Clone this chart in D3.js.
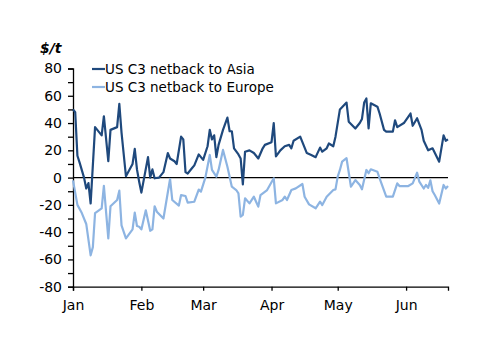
<!DOCTYPE html>
<html>
<head>
<meta charset="utf-8">
<script src="https://cdn.jsdelivr.net/npm/d3@7"></script>
<style>
body { margin: 0; background: #fff; }
text { font-family: "DejaVu Sans", Verdana, sans-serif; fill: #000; }
</style>
</head>
<body>
<div id="chart-area"></div>
<script>

var width = 500,
	height = 353;

var margin = {top: 68.5, right: 52, bottom: 66.3, left: 73};

// series
var asiaDates = ["01-01","01-02","01-03","01-04","01-06","01-07","01-08","01-09","01-11","01-14",
	"01-15","01-17","01-18","01-21","01-22","01-23","01-25","01-28","01-29","01-30",
	"01-31","02-01","02-04","02-05","02-06","02-07","02-09","02-11","02-13","02-14",
	"02-16","02-17","02-19","02-20","02-21","02-22","02-24","02-25","02-27","02-28",
	"03-01","03-03","03-04","03-05","03-06","03-07","03-08","03-10","03-12","03-13",
	"03-14","03-15","03-17","03-18","03-19","03-20","03-22","03-24","03-26","03-28",
	"03-29","04-01","04-02","04-03","04-05","04-07","04-09","04-10","04-11","04-14",
	"04-15","04-17","04-19","04-21","04-23","04-24","04-26","04-27","04-29","04-30",
	"05-02","05-05","05-06","05-09","05-11","05-12","05-13","05-14","05-15","05-16",
	"05-19","05-20","05-22","05-23","05-26","05-27","05-28","05-31","06-03","06-04",
	"06-06","06-08","06-09","06-11","06-13","06-16","06-18","06-19","06-20"];
var asiaValues = [50, 48, 16, 11, 0, -8, -4, -19, 37, 31,
	45, 12, 35, 37, 54, 33, 1, 10, 21, 6,
	-3, -11, 15, 0, 6, -0.5, 0, 4, 18, 14,
	12, 10, 30, 28, 4, 3, 7, 9, 17, 15,
	13, 23, 35, 28, 31, 15, 24, 35, 44, 34,
	34, 21.5, 17, 14, -5, 19, 20, 18, 14, 21.5,
	24, 26, 40, 15.5, 20, 23, 24, 21.5, 27, 30,
	26, 18, 16.6, 15, 22, 19, 21.5, 25, 23, 30,
	50, 55, 41, 36, 40, 43, 55, 58, 36, 54.5,
	52, 47, 35, 33.7, 33.7, 42, 37, 40, 47, 38,
	43.5, 35, 27, 20, 21.5, 11.7, 31, 27, 28];

var europeDates = ["01-01","01-03","01-05","01-07","01-09","01-10","01-11","01-14","01-15","01-17",
	"01-18","01-21","01-22","01-23","01-25","01-28","01-29","01-30","01-31","02-01",
	"02-03","02-05","02-06","02-07","02-08","02-11","02-14","02-15","02-18","02-19",
	"02-21","02-22","02-25","02-27","02-28","03-02","03-04","03-05","03-07","03-08",
	"03-10","03-12","03-14","03-16","03-17","03-18","03-19","03-20","03-22","03-24",
	"03-25","03-26","03-27","03-30","04-02","04-03","04-06","04-07","04-08","04-10",
	"04-12","04-15","04-16","04-18","04-21","04-23","04-24","04-26","04-29","04-30",
	"05-01","05-02","05-03","05-05","05-07","05-09","05-11","05-12","05-14","05-15",
	"05-16","05-19","05-20","05-23","05-26","05-28","05-29","06-02","06-04","06-06",
	"06-07","06-09","06-10","06-11","06-12","06-13","06-14","06-16","06-18","06-19",
	"06-20"];
var europeValues = [-2, -20, -26, -34, -57, -51, -26, -22.5, -6, -44.6,
	-21, -16.4, -9.6, -35, -44.6, -38, -25.7, -35.5, -36, -38,
	-24, -39, -38, -21, -25, -30, -1, -16.4, -20.5, -12.8,
	-13.5, -18.4, -17.7, -8.8, -10.3, 0, 16.6, 5.6, 0.7, 5.6,
	20.3, 8, -6.7, -9.1, -11.5, -28.7, -27.4, -15.2, -18.9, -14,
	-17.7, -21.3, -12.8, -9.1, -0.5, -18.9, -16.4, -14, -16.4, -9.1,
	-7.9, -4.7, -14, -19.6, -22.5, -17.7, -20.1, -14, -9.1, -8.6,
	0.7, 5.6, 11.7, 14.2, -6.7, -1.8, -5.4, -8.6, 5.6, 3.2,
	6.1, 4.3, -0.5, -14, -14, -4.2, -6.2, -6.2, -4.2, 3.6,
	-3, -8, -5.4, -7.5, -2, -10, -12.8, -19, -5.4, -8,
	-6.2];

var seriesNames = ["US C3 netback to Asia", "US C3 netback to Europe"];
var seriesColors = ["#1F497D", "#8DB4E2"];
var yTicks = [-80, -70, -60, -50, -40, -30, -20, -10, 0, 10, 20, 30, 40, 50, 60, 70, 80];
var unitLabel = "$/t";
var xStart = "01-01", xEnd = "06-20";

var parseDate = d3.timeParse("%Y-%m-%d");
function toDate(s) { return parseDate("2013-" + s); }

var innerW = width - margin.left - margin.right,
	innerH = height - margin.top - margin.bottom;

var svg = d3.select("#chart-area").append("svg")
	.attr("width", width)
	.attr("height", height);

var g = svg.append("g")
	.attr("transform", "translate(" + margin.left + "," + margin.top + ")");

var x = d3.scaleTime()
	.domain([toDate(xStart), toDate(xEnd)])
	.range([0, innerW]);

var y = d3.scaleLinear()
	.domain([-80, 80])
	.range([innerH, 0]);

// y axis with minor ticks every 10
var yAxis = g.append("g")
	.call(d3.axisLeft(y)
		.tickValues(yTicks)
		.tickSize(5)
		.tickPadding(6)
		.tickFormat(function(d){ return d % 20 == 0 ? d : ""; }));
yAxis.selectAll("text").style("font-size", "14px");

// x axis at the bottom
var xAxis = g.append("g")
	.attr("transform", "translate(0," + innerH + ")")
	.call(d3.axisBottom(x)
		.ticks(d3.timeMonth.every(1))
		.tickSize(4)
		.tickPadding(9)
		.tickFormat(d3.timeFormat("%b")));
xAxis.selectAll("text").style("font-size", "14px");

svg.selectAll(".domain, .tick line")
	.attr("stroke", "#000")
	.attr("stroke-width", 1.3);

// zero line
g.append("line")
	.attr("x1", 0)
	.attr("x2", innerW)
	.attr("y1", y(0))
	.attr("y2", y(0))
	.attr("stroke", "#000")
	.attr("stroke-width", 1.3);

var line = d3.line()
	.x(function(d) { return x(d.date); })
	.y(function(d) { return y(d.value); });

var series = [
	asiaDates.map(function(d, i){ return {date: toDate(d), value: asiaValues[i]}; }),
	europeDates.map(function(d, i){ return {date: toDate(d), value: europeValues[i]}; })
];

// draw europe first so asia sits on top
[1, 0].forEach(function(k){
	g.append("path")
		.datum(series[k])
		.attr("fill", "none")
		.attr("stroke", seriesColors[k])
		.attr("stroke-width", 2.2)
		.attr("stroke-linejoin", "round")
		.attr("d", line);
});

// unit label
svg.append("text")
	.attr("x", 40)
	.attr("y", 53)
	.style("font-size", "14px")
	.style("font-weight", "bold")
	.style("font-style", "italic")
	.text(unitLabel);

// legend
var legend = svg.append("g")
	.attr("transform", "translate(92,69)");

seriesNames.forEach(function(name, i){
	legend.append("line")
		.attr("x1", 0)
		.attr("x2", 13)
		.attr("y1", i*18)
		.attr("y2", i*18)
		.attr("stroke", seriesColors[i])
		.attr("stroke-width", 2.2);
	legend.append("text")
		.attr("x", 13)
		.attr("y", i*18)
		.attr("dy", "0.36em")
		.style("font-size", "13.5px")
		.text(name);
});

</script>
</body>
</html>
